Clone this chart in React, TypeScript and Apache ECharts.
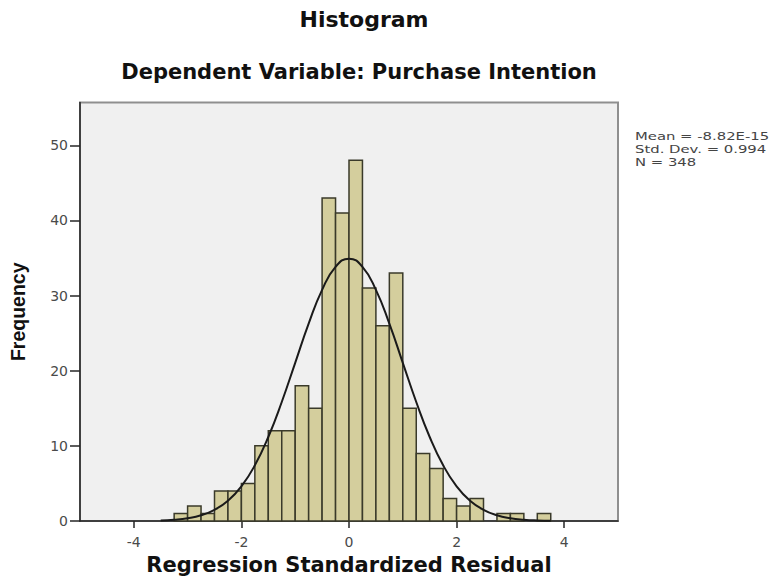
import React, { useEffect, useRef } from "react";
import * as echarts from "echarts";

// ---- data ----
const binLowerEdges = [
  -3.25, -3.0, -2.75, -2.5, -2.25, -2.0, -1.75, -1.5, -1.25, -1.0, -0.75, -0.5, -0.25,
  0, 0.25, 0.5, 0.75, 1.0, 1.25, 1.5, 1.75, 2.0, 2.25, 2.5, 2.75, 3.0, 3.25, 3.5,
];
const binWidth = 0.25;
const frequencies = [
  1, 2, 1, 4, 4, 5, 10, 12, 12, 18, 15, 43, 41, 48, 31, 26, 33, 15, 9, 7, 3, 2, 3, 0, 1, 1, 0, 1,
];

// normal curve points
const curveX = [
  -3.5, -3.25, -3.0, -2.75, -2.5, -2.25, -2.0, -1.75, -1.5, -1.25, -1.0, -0.75, -0.5, -0.25,
  0, 0.25, 0.5, 0.75, 1.0, 1.25, 1.5, 1.75, 2.0, 2.25, 2.5, 2.75, 3.0, 3.25, 3.5, 3.75,
];
const curveY = [
  0.07, 0.17, 0.37, 0.76, 1.48, 2.69, 4.61, 7.41, 11.18, 15.84, 21.05, 26.27, 30.77, 33.83,
  34.92, 33.83, 30.77, 26.27, 21.05, 15.84, 11.18, 7.41, 4.61, 2.69, 1.48, 0.76, 0.37, 0.17, 0.07, 0.03,
];

const xTicks = [-4, -2, 0, 2, 4];
const yTicks = [0, 10, 20, 30, 40, 50];
const xRange = [-5, 5];
const yRange = [0, 55.7];

const titleText = "Histogram";
const subtitleText = "Dependent Variable: Purchase Intention";
const xName = "Regression Standardized Residual";
const yName = "Frequency";
const statsLines = ["Mean = -8.82E-15", "Std. Dev. = 0.994", "N = 348"];

export default function App() {
  const ref = useRef<HTMLDivElement>(null);

  useEffect(() => {
    if (!ref.current) return;
    const chart = echarts.init(ref.current, null, { renderer: "svg" });

    const histData = binLowerEdges.map((e, i) => [e, e + binWidth, frequencies[i]]);
    const curveData = curveX.map((x, i) => [x, curveY[i]]);

    const axisLineStyle = { color: "#262626", width: 1.5 };
    const tickLabel = {
      fontFamily: "DejaVu Sans",
      fontSize: 14,
      color: "#4a4a4a",
    };

    chart.setOption({
      animation: false,
      backgroundColor: "#ffffff",
      title: [
        {
          text: titleText,
          left: 364,
          top: 8,
          padding: 0,
          textAlign: "center",
          textStyle: {
            fontFamily: "DejaVu Sans",
            fontWeight: "bold",
            fontSize: 22,
            color: "#111111",
          },
        },
        {
          text: subtitleText,
          left: 359,
          top: 61,
          padding: 0,
          textAlign: "center",
          textStyle: {
            fontFamily: "DejaVu Sans",
            fontWeight: "bold",
            fontSize: 21,
            color: "#111111",
          },
        },
      ],
      grid: {
        left: 79,
        right: 154,
        top: 102.5,
        bottom: 57,
        show: true,
        backgroundColor: "#f0f0f0",
        borderColor: "#8f8f8f",
        borderWidth: 2,
      },
      xAxis: {
        type: "value",
        min: xRange[0],
        max: xRange[1],
        axisLine: { show: true, onZero: false, lineStyle: axisLineStyle },
        axisTick: { show: true, length: 7, customValues: xTicks, lineStyle: axisLineStyle },
        axisLabel: { ...tickLabel, margin: 14, customValues: xTicks },
        splitLine: { show: false },
        name: xName,
        nameLocation: "middle",
        nameGap: 33,
        nameTextStyle: {
          fontFamily: "DejaVu Sans",
          fontWeight: "bold",
          fontSize: 21,
          color: "#111111",
        },
      },
      yAxis: {
        type: "value",
        min: yRange[0],
        max: yRange[1],
        axisLine: { show: true, onZero: false, lineStyle: axisLineStyle },
        axisTick: { show: true, length: 10, customValues: yTicks, lineStyle: axisLineStyle },
        axisLabel: { ...tickLabel, margin: 12, customValues: yTicks },
        splitLine: { show: false },
        name: yName,
        nameLocation: "middle",
        nameRotate: 90,
        nameGap: 52,
        nameTextStyle: {
          fontFamily: "Liberation Sans",
          fontWeight: "bold",
          fontSize: 19.5,
          color: "#111111",
        },
      },
      graphic: [
        {
          type: "text",
          x: 635,
          y: 130,
          scaleX: 1.35,
          style: {
            text: statsLines.join("\n"),
            fontFamily: "DejaVu Sans",
            fontSize: 11,
            lineHeight: 13,
            fill: "#444444",
            align: "left",
            verticalAlign: "top",
          },
        },
      ],
      series: [
        {
          type: "custom",
          name: "Frequency",
          data: histData,
          encode: { x: [0, 1], y: 2 },
          renderItem: (params: any, api: any) => {
            const x0 = api.value(0);
            const x1 = api.value(1);
            const c = api.value(2);
            if (!c) return null;
            const pTop = api.coord([x0, c]);
            const pBot = api.coord([x1, 0]);
            return {
              type: "rect",
              shape: {
                x: pTop[0],
                y: pTop[1],
                width: pBot[0] - pTop[0],
                height: pBot[1] - pTop[1],
              },
              style: {
                fill: "#d4ce9d",
                stroke: "#3a3a2a",
                lineWidth: 1.5,
              },
            };
          },
          z: 2,
        },
        {
          type: "line",
          name: "Normal",
          data: curveData,
          smooth: true,
          showSymbol: false,
          symbol: "none",
          lineStyle: { color: "#1a1a1a", width: 2 },
          z: 3,
        },
      ],
    });

    return () => chart.dispose();
  }, []);

  return (
    <div
      ref={ref}
      style={{
        position: "absolute",
        left: 0,
        top: 0,
        width: 772,
        height: 580,
        background: "#ffffff",
      }}
    />
  );
}
